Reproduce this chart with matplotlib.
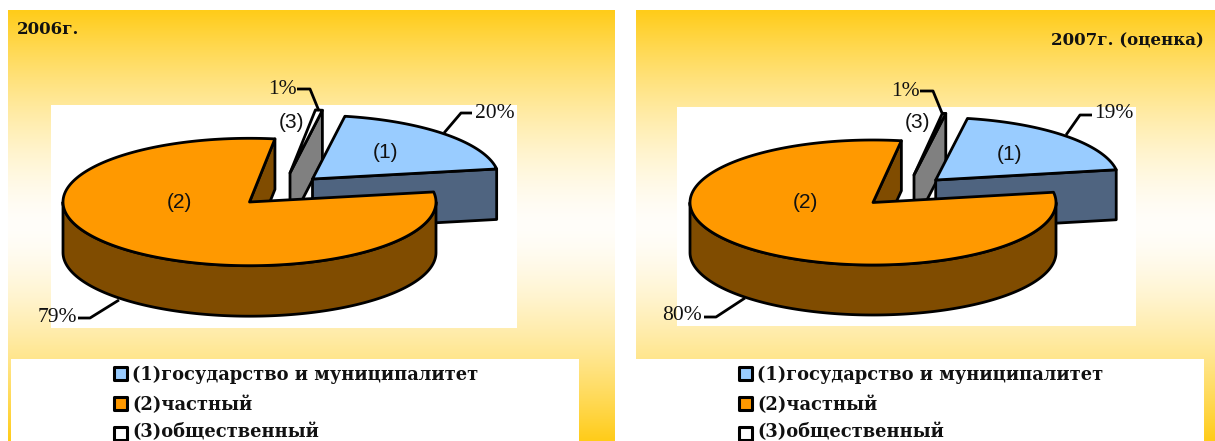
import numpy as np
import matplotlib
matplotlib.use('Agg')
import matplotlib.pyplot as plt
from matplotlib.patches import Polygon, Rectangle

# Data
categories = ['(1)государство и муниципалитет', '(2)частный', '(3)общественный']
short_names = ['(1)', '(2)', '(3)']
titles = ['2006г.', '2007г. (оценка)']
# Rounded percentages as printed next to the slices
printed_2006 = [20, 79, 1]
printed_2007 = [19, 80, 1]
# Slice sizes as drawn (the third one is much thinner than its 1% label)
drawn_2006 = [19.7, 79.7, 0.6]
drawn_2007 = [19.6, 80.1, 0.3]

W, H = 1215, 441
TOP_COLORS = ['#99CCFF', '#FF9900', '#FFFFFF']
SIDE_COLORS = ['#4F6480', '#804C00', '#808080']
LW = 2.0

fig = plt.figure(figsize=(W / 100, H / 100), dpi=100)
ax = fig.add_axes([0, 0, 1, 1])
ax.set_xlim(0, W)
ax.set_ylim(H, 0)
ax.axis('off')


def arc(cx, cy, rx, ry, a1, a2):
    t = np.radians(np.linspace(a1, a2, 200))
    return np.column_stack([cx + rx * np.cos(t), cy - ry * np.sin(t)])


def poly(points, color, z):
    ax.add_patch(Polygon(points, closed=True, facecolor=color, edgecolor='black',
                         linewidth=LW, joinstyle='round', zorder=z))


def draw_pie(drawn, cx, cy, rx, ry, depth, blue_off, gray_off, start):
    blue, orange, gray = np.array(drawn) * 3.6
    blue_end = start - blue
    orange_start = blue_end - orange + 360
    orange_end = blue_end + 360
    gray_start = orange_start
    gray_end = start

    # slice 3, pulled out
    gx, gy = cx + gray_off[0], cy + gray_off[1]
    rim = arc(gx, gy, rx, ry, gray_end, gray_end)[0]
    poly([(gx, gy), rim, rim + (0, depth), (gx, gy + depth)], SIDE_COLORS[2], 3)
    poly(np.vstack([[(gx, gy)], arc(gx, gy, rx, ry, gray_start, gray_end)]), TOP_COLORS[2], 3.1)

    # slice 1, pulled out
    bx, by = cx + blue_off[0], cy + blue_off[1]
    rim = arc(bx, by, rx, ry, blue_end, blue_end)[0]
    poly([(bx, by), rim, rim + (0, depth), (bx, by + depth)], SIDE_COLORS[0], 4)
    poly(np.vstack([[(bx, by)], arc(bx, by, rx, ry, start, blue_end)]), TOP_COLORS[0], 4.1)

    # slice 2
    front = arc(cx, cy, rx, ry, 180, 360)
    poly(np.vstack([front, front[::-1] + (0, depth)]), SIDE_COLORS[1], 5)
    rim = arc(cx, cy, rx, ry, orange_start, orange_start)[0]
    poly([(cx, cy), rim, rim + (0, depth), (cx, cy + depth)], SIDE_COLORS[1], 5.1)
    poly(np.vstack([[(cx, cy)], arc(cx, cy, rx, ry, orange_start, orange_end)]), TOP_COLORS[1], 5.2)


def gradient_panel(x0, x1, y0, y1):
    t = np.linspace(0, 1, 256)
    f = (np.abs(2 * t - 1) ** 1.5)[:, None, None]
    top = np.array([255, 204, 25]) / 255
    img = (1 - f) * np.array([1, 0.995, 0.98]) + f * top
    ax.imshow(img, extent=[x0, x1, y1, y0], aspect='auto', zorder=0, interpolation='bilinear')


def white_box(x0, x1, y0, y1):
    ax.add_patch(Rectangle((x0, y0), x1 - x0, y1 - y0, facecolor='white', edgecolor='none', zorder=1))


def leader(points):
    xs, ys = zip(*points)
    ax.plot(xs, ys, color='black', lw=LW, solid_capstyle='butt', solid_joinstyle='round', zorder=6)


def pct(x, y, value):
    ax.text(x, y, f'{value}%', family='Liberation Serif', fontsize=15.5, ha='center', va='center',
            color='#111111', zorder=7)


def name(x, y, s):
    ax.text(x, y, s, family='Liberation Sans', fontsize=15, ha='center', va='center',
            color='#111111', zorder=7)


def legend_rows(box_x, text_x):
    for i, cat in enumerate(categories):
        y = 367 + i * 30
        ax.add_patch(Rectangle((box_x, y), 13, 13, facecolor=TOP_COLORS[i], edgecolor='black',
                               linewidth=2.2, zorder=7, joinstyle='round'))
        # last row sits at the bottom edge, keep its text just inside
        text_y = y + 8 if i < 2 else H - 9.5
        ax.text(text_x, text_y, cat, family='DejaVu Serif', fontweight='bold', fontsize=12.85,
                ha='left', va='center', color='#111111', zorder=7)


# Panels
gradient_panel(8, 615, 10, H)
gradient_panel(636, W, 10, H)
ax.set_xlim(0, W)
ax.set_ylim(H, 0)
white_box(51, 517, 105, 328)
white_box(677, 1136, 107, 326)
white_box(11, 579, 359, H)
white_box(636, 1204, 359, H)

# 2006
draw_pie(drawn_2006, 249.5, 202, 186.5, 63.7, 50.5, (63, -23), (40.5, -29), 80)
name(386, 152, short_names[0])
name(179, 202, short_names[1])
name(292, 122, short_names[2])
pct(495, 113, printed_2006[0])
pct(57, 318, printed_2006[1])
pct(282, 89, printed_2006[2])
leader([(444, 133), (461, 113), (472, 113)])
leader([(119, 300), (90, 318), (78, 318)])
leader([(297, 89), (310, 89), (319, 111)])
ax.text(17, 30, titles[0], family='DejaVu Serif', fontweight='bold', fontsize=12, ha='left', va='center',
        color='#111111', zorder=7)
legend_rows(114, 132)

# 2007
draw_pie(drawn_2007, 873, 202.5, 183, 62.5, 50, (62.7, -22.5), (41, -27.5), 80)
name(1009, 154, short_names[0])
name(805, 202, short_names[1])
name(917, 122, short_names[2])
pct(1114, 114, printed_2007[0])
pct(682, 316, printed_2007[1])
pct(905, 91, printed_2007[2])
leader([(1066, 135), (1080, 115), (1092, 115)])
leader([(745, 298), (716, 317), (704, 317)])
leader([(920, 91), (933, 91), (942, 113)])
ax.text(1204, 41, titles[1], family='DejaVu Serif', fontweight='bold', fontsize=12, ha='right', va='center',
        color='#111111', zorder=7)
legend_rows(739, 757)

fig.savefig('out.png', dpi=100, facecolor='white')
